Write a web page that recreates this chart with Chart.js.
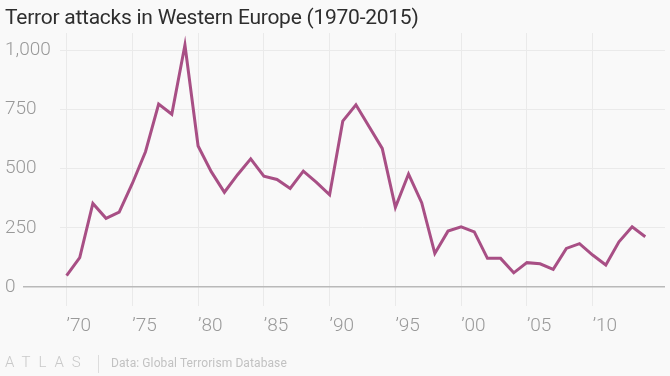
<!DOCTYPE html>
<html>
<head>
<meta charset="utf-8">
<script src="https://cdn.jsdelivr.net/npm/chart.js@4.4.1/dist/chart.umd.min.js"></script>
<style>
  html, body { margin: 0; padding: 0; background: #f9f9f9; }
  #wrap { position: relative; width: 670px; height: 376px; overflow: hidden; font-family: Roboto, "Noto Sans", sans-serif; }
  #title { position: absolute; left: 5px; top: 5px; font-size: 21px; line-height: 24px; color: #2e2e2e; letter-spacing: -0.25px; white-space: nowrap; }
  #logo { position: absolute; left: 5px; top: 353px; font-size: 15px; line-height: 18px; font-weight: 300; color: #c9c9c9; letter-spacing: 8px; }
  #sep { position: absolute; left: 98px; top: 355px; width: 1px; height: 18px; background: #dddddd; }
  #source { position: absolute; left: 111px; top: 356px; font-size: 12px; line-height: 14px; color: #c2c2c2; white-space: nowrap; letter-spacing: 0.1px; }
  canvas { position: absolute; left: 0; top: 0; }
</style>
</head>
<body>
<div id="wrap">
  <canvas id="attacksChart" width="670" height="376"></canvas>
  <div id="title">Terror attacks in Western Europe (1970-2015)</div>
  <div id="logo">ATLAS</div>
  <div id="sep"></div>
  <div id="source">Data: Global Terrorism Database</div>
</div>
<script>
// yearly counts (no data point for 1993)
const years = [1970, 1971, 1972, 1973, 1974, 1975, 1976, 1977, 1978, 1979,
               1980, 1981, 1982, 1983, 1984, 1985, 1986, 1987, 1988, 1989,
               1990, 1991, 1992, 1993, 1994, 1995, 1996, 1997, 1998, 1999,
               2000, 2001, 2002, 2003, 2004, 2005, 2006, 2007, 2008, 2009,
               2010, 2011, 2012, 2013, 2014];
const attacks = [48, 124, 353, 290, 316, 437, 571, 772, 729, 1021,
                 595, 487, 400, 474, 541, 468, 454, 416, 489, 442,
                 389, 700, 769, null, 585, 336, 477, 356, 142, 236,
                 254, 233, 121, 121, 60, 103, 98, 75, 163, 183,
                 135, 93, 191, 254, 212];
const xTicks = [1970, 1975, 1980, 1985, 1990, 1995, 2000, 2005, 2010];
const yTicks = [0, 250, 500, 750, 1000];

const tickFont = { family: "Roboto", size: 19, weight: 300 };

window.drawAttacksChart = function () {
    const ctx = document.getElementById("attacksChart").getContext("2d");

    new Chart(ctx, {
        type: "line",
        data: {
            datasets: [
                {
                    data: years.map((y, i) => ({ x: y, y: attacks[i] })),
                    borderColor: "#a84f85",
                    borderWidth: 3,
                    pointRadius: 0,
                    spanGaps: true,
                    tension: 0
                }
            ]
        },
        options: {
            responsive: false,
            animation: false,
            layout: { padding: { left: 5, right: 5, top: 33, bottom: 30 } },
            scales: {
                x: {
                    type: "linear",
                    min: 1969.5,
                    max: 2015.5,
                    afterBuildTicks: (s) => { s.ticks = xTicks.map(v => ({ value: v })); },
                    afterFit: (s) => { s.height = 40; },
                    border: { display: false },
                    grid: { color: "#eaeaea", drawTicks: false },
                    ticks: {
                        align: "start",
                        padding: 9,
                        color: "#999",
                        font: tickFont,
                        callback: (v) => "\u2019" + String(v).slice(2)
                    }
                },
                y: {
                    min: -80,
                    max: 1072,
                    afterBuildTicks: (s) => { s.ticks = yTicks.map(v => ({ value: v })); },
                    afterFit: (s) => { s.width = 55; },
                    border: { display: false },
                    grid: {
                        color: (c) => c.tick && c.tick.value === 0 ? "#b9b9b9" : "#eaeaea",
                        lineWidth: (c) => c.tick && c.tick.value === 0 ? 1.5 : 1,
                        tickLength: 37,
                        tickColor: (c) => c.tick && c.tick.value === 0 ? "#b9b9b9" : "rgba(0,0,0,0)"
                    },
                    ticks: {
                        crossAlign: "far",
                        color: "#999",
                        font: tickFont,
                        callback: (v) => v.toLocaleString("en-US")
                    }
                }
            },
            plugins: {
                legend: { display: false },
                tooltip: { enabled: false }
            }
        }
    });
}

window.drawAttacksChart();
</script>
</body>
</html>
